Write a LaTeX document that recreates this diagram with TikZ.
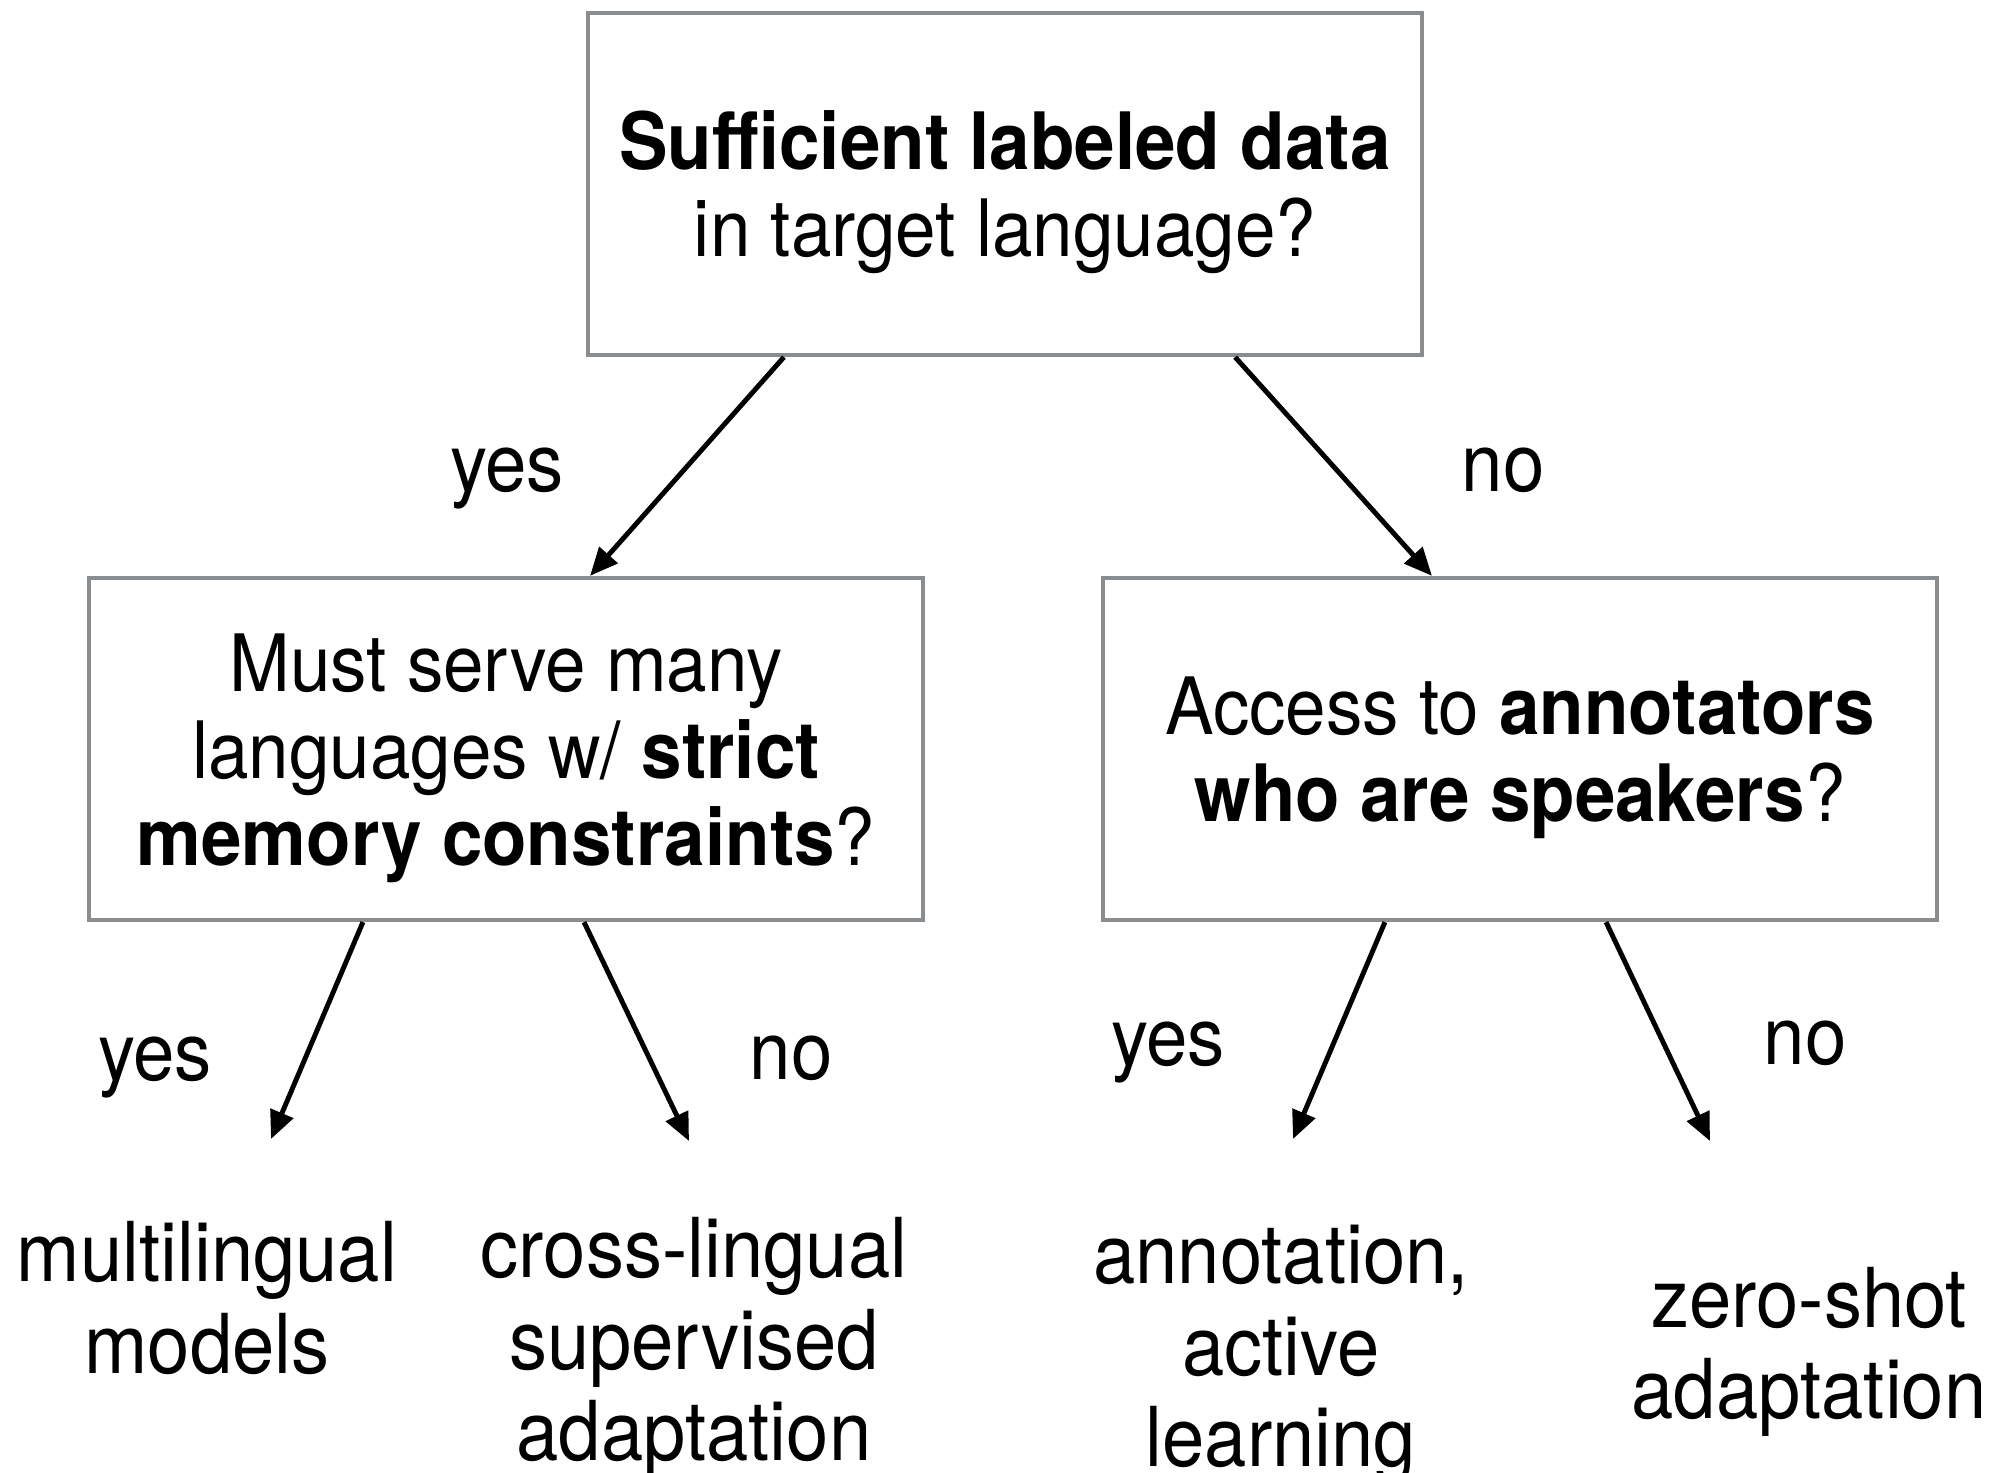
\documentclass[tikz,border=0pt]{standalone}
\usepackage{fontspec}
\setmainfont[FakeStretch=0.92]{TeX Gyre Heros}
\usetikzlibrary{positioning, arrows.meta}

\definecolor{boxgray}{RGB}{138,141,144}

\begin{document}
\begin{tikzpicture}[x=0.01cm, y=-0.01cm,
    question/.style={draw=boxgray, line width=1.15pt, align=center, minimum width=8.34cm, minimum height=3.42cm, font=\fontsize{22.5}{24.7}\selectfont},
    leaf/.style={align=center, font=\fontsize{23.5}{26}\selectfont},
    answer/.style={font=\fontsize{23}{25}\selectfont},
    branch/.style={line width=1.4pt, -{Triangle[length=0.28cm, width=0.24cm]}}]

\useasboundingbox (0,0) rectangle (2003,1472);

% questions
\node[question] (Q0) at (1005,184) {\rule{0pt}{21.5pt}\textbf{Sufficient labeled data}\\in target language?};
\node[question] (Q1) at (506,749) {\rule{0pt}{21.5pt}Must serve many\\languages w/ \textbf{strict}\\\textbf{memory constraints}?};
\node[question] (Q2) at (1520,749) {\rule{0pt}{21.5pt}Access to \textbf{annotators}\\\textbf{who are speakers}?};

% outcomes
\node[leaf] (multi) at (207,1298) {multilingual\\models};
\node[leaf] (cross) at (694,1348) {cross-lingual\\supervised\\adaptation};
\node[leaf] (annot) at (1281,1355) {annotation,\\active\\learning};
\node[leaf] (zero) at (1809,1352) {zero-shot\\adaptation};

% free ends above the outcomes
\coordinate (multiTip) at (271,1139);
\coordinate (crossTip) at (689,1141);
\coordinate (annotTip) at (1293,1139);
\coordinate (zeroTip) at (1710,1141);

% arrows
\draw[branch] ([xshift=-2.21cm]Q0.south) -- ([xshift=0.84cm]Q1.north);
\draw[branch] ([xshift=2.30cm]Q0.south) -- ([xshift=-0.88cm]Q2.north);
\draw[branch] ([xshift=-1.43cm]Q1.south) -- (multiTip);
\draw[branch] ([xshift=0.78cm]Q1.south) -- (crossTip);
\draw[branch] ([xshift=-1.35cm]Q2.south) -- (annotTip);
\draw[branch] ([xshift=0.86cm]Q2.south) -- (zeroTip);

% yes / no
\node[answer] (yes0) at (507,479) {yes};
\node[answer] (no0) at (1503,470) {no};
\node[answer] (yes1) at (155,1067) {yes};
\node[answer] (no1) at (791,1058) {no};
\node[answer] (yes2) at (1168,1052) {yes};
\node[answer] (no2) at (1805,1043) {no};

\end{tikzpicture}
\end{document}
